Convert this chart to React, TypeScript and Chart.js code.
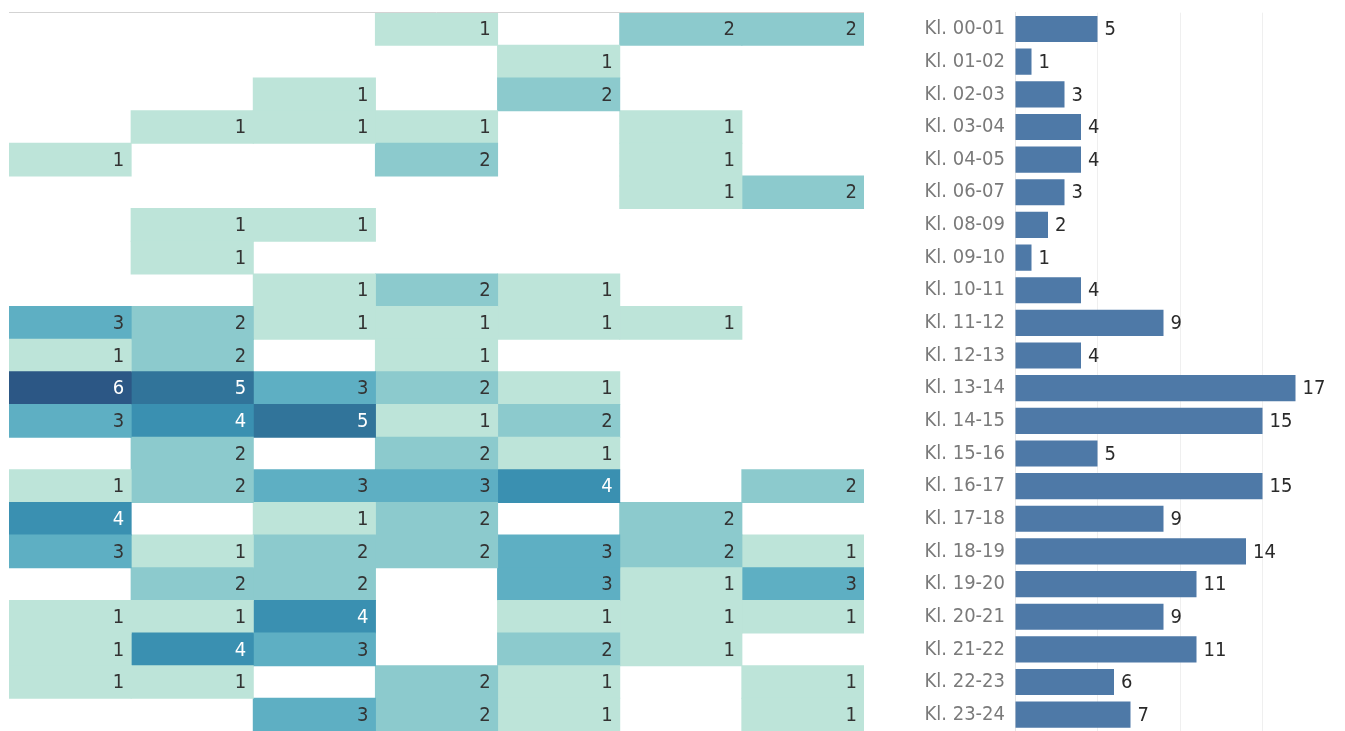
import React, { useEffect, useRef } from "react";
import { Chart, registerables } from "chart.js";

Chart.register(...registerables);

// Row categories (hour intervals)
const hourLabels = [
  "Kl. 00-01", "Kl. 01-02", "Kl. 02-03", "Kl. 03-04", "Kl. 04-05", "Kl. 06-07",
  "Kl. 08-09", "Kl. 09-10", "Kl. 10-11", "Kl. 11-12", "Kl. 12-13", "Kl. 13-14",
  "Kl. 14-15", "Kl. 15-16", "Kl. 16-17", "Kl. 17-18", "Kl. 18-19", "Kl. 19-20",
  "Kl. 20-21", "Kl. 21-22", "Kl. 22-23", "Kl. 23-24",
];

// Heatmap columns (weekdays, header not visible in the picture)
const colNames = ["Man", "Tir", "Ons", "Tor", "Fre", "Lør", "Søn"];

const col0 = [0, 0, 0, 0, 1, 0, 0, 0, 0, 3, 1, 6, 3, 0, 1, 4, 3, 0, 1, 1, 1, 0];
const col1 = [0, 0, 0, 1, 0, 0, 1, 1, 0, 2, 2, 5, 4, 2, 2, 0, 1, 2, 1, 4, 1, 0];
const col2 = [0, 0, 1, 1, 0, 0, 1, 0, 1, 1, 0, 3, 5, 0, 3, 1, 2, 2, 4, 3, 0, 3];
const col3 = [1, 0, 0, 1, 2, 0, 0, 0, 2, 1, 1, 2, 1, 2, 3, 2, 2, 0, 0, 0, 2, 2];
const col4 = [0, 1, 2, 0, 0, 0, 0, 0, 1, 1, 0, 1, 2, 1, 4, 0, 3, 3, 1, 2, 1, 1];
const col5 = [2, 0, 0, 1, 1, 1, 0, 0, 0, 1, 0, 0, 0, 0, 0, 2, 2, 1, 1, 1, 0, 0];
const col6 = [2, 0, 0, 0, 0, 2, 0, 0, 0, 0, 0, 0, 0, 0, 2, 0, 1, 3, 1, 0, 1, 1];

// Row totals (bar chart)
const totals = [5, 1, 3, 4, 4, 3, 2, 1, 4, 9, 4, 17, 15, 5, 15, 9, 14, 11, 9, 11, 6, 7];

const barAxisMax = 20;
const barGridStep = 5;

const columns = [col0, col1, col2, col3, col4, col5, col6];

const heatPalette = ["#bde4d9", "#8ccacd", "#5eafc3", "#3a90b1", "#31749a", "#2c5785"];
const barColor = "#4e79a7";
const FONT_FAMILY = "'DejaVu Sans Condensed', 'DejaVu Sans', sans-serif";
const FONT_SIZE = 20;

export default function App() {
  const heatRef = useRef<HTMLCanvasElement | null>(null);
  const barRef = useRef<HTMLCanvasElement | null>(null);

  useEffect(() => {
    document.body.style.margin = "0";
    const heatCanvas = heatRef.current!;
    const barCanvas = barRef.current!;

    const topLinePlugin = {
      id: "topLine",
      afterDraw(chart: any) {
        const { ctx, chartArea } = chart;
        ctx.save();
        ctx.strokeStyle = "#d3d3d3";
        ctx.lineWidth = 1;
        ctx.beginPath();
        const y = Math.round(chartArea.top) - 0.5;
        ctx.moveTo(chartArea.left, y);
        ctx.lineTo(chartArea.right, y);
        ctx.stroke();
        ctx.restore();
      },
    };

    const heatLabelPlugin = {
      id: "heatLabels",
      afterDatasetsDraw(chart: any) {
        const { ctx } = chart;
        ctx.save();
        ctx.font = `${FONT_SIZE}px ${FONT_FAMILY}`;
        ctx.textAlign = "right";
        ctx.textBaseline = "middle";
        columns.forEach((col, c) => {
          const meta = chart.getDatasetMeta(c);
          col.forEach((v, r) => {
            if (v <= 0) return;
            const el: any = meta.data[r];
            if (!el) return;
            const right = Math.max(el.x, el.base);
            ctx.fillStyle = v >= 4 ? "#ffffff" : "#333333";
            ctx.fillText(String(v), right - 7, el.y + 1);
          });
        });
        ctx.restore();
      },
    };

    const heatChart = new Chart(heatCanvas, {
      type: "bar",
      data: {
        labels: hourLabels,
        datasets: columns.map((col, c) => ({
          label: colNames[c],
          data: col.map((v) => (v > 0 ? [c, c + 1] : null)) as any,
          backgroundColor: col.map((v) => (v > 0 ? heatPalette[Math.min(v, 6) - 1] : "rgba(0,0,0,0)")),
          borderWidth: 0,
          barPercentage: 1,
          categoryPercentage: 1,
          grouped: false,
          inflateAmount: 0.5,
        })),
      },
      options: {
        indexAxis: "y",
        animation: false,
        responsive: false,
        maintainAspectRatio: false,
        events: [],
        layout: { padding: { top: 12.7, left: 9, right: 6, bottom: 0 } },
        plugins: { legend: { display: false }, tooltip: { enabled: false } },
        scales: {
          x: { type: "linear", min: 0, max: columns.length, display: false },
          y: { type: "category", display: false },
        },
      } as any,
      plugins: [topLinePlugin, heatLabelPlugin],
    });

    const barLabelPlugin = {
      id: "barLabels",
      afterDatasetsDraw(chart: any) {
        const { ctx } = chart;
        const meta = chart.getDatasetMeta(0);
        ctx.save();
        ctx.font = `${FONT_SIZE}px ${FONT_FAMILY}`;
        ctx.textAlign = "left";
        ctx.textBaseline = "middle";
        ctx.fillStyle = "#2a2a2a";
        totals.forEach((v, i) => {
          const el: any = meta.data[i];
          if (!el) return;
          ctx.fillText(String(v), el.x + 7, el.y + 1);
        });
        ctx.restore();
      },
    };

    const barChart = new Chart(barCanvas, {
      type: "bar",
      data: {
        labels: hourLabels,
        datasets: [
          {
            label: "Total",
            data: totals,
            backgroundColor: barColor,
            borderWidth: 0,
            barPercentage: 0.8,
            categoryPercentage: 1,
          },
        ],
      },
      options: {
        indexAxis: "y",
        animation: false,
        responsive: false,
        maintainAspectRatio: false,
        events: [],
        layout: { padding: { top: 12.7, left: 0, right: 0, bottom: 0 } },
        plugins: { legend: { display: false }, tooltip: { enabled: false } },
        scales: {
          x: {
            type: "linear",
            min: 0,
            max: barAxisMax,
            ticks: { display: false, stepSize: barGridStep },
            grid: {
              drawTicks: false,
              color: (ctx: any) =>
                ctx.tick && ctx.tick.value > 0 && ctx.tick.value < barAxisMax ? "#efefef" : "rgba(0,0,0,0)",
            },
            border: { display: false },
            afterFit: (s: any) => {
              s.height = 0;
              s.paddingLeft = 0;
              s.paddingRight = 0;
            },
          },
          y: {
            type: "category",
            ticks: {
              color: "#7a7a7a",
              font: { family: FONT_FAMILY, size: FONT_SIZE },
              padding: 10,
              autoSkip: false,
            },
            grid: { display: false, drawTicks: false },
            border: { display: true, color: "#e4e4e4" },
            afterFit: (s: any) => {
              s.width = 135;
              s.paddingTop = 0;
              s.paddingBottom = 0;
            },
          },
        },
      } as any,
      plugins: [barLabelPlugin],
    });

    return () => {
      heatChart.destroy();
      barChart.destroy();
    };
  }, []);

  return (
    <div style={{ position: "relative", width: 1345, height: 731, overflow: "hidden", background: "#fff" }}>
      <canvas
        ref={heatRef}
        width={870}
        height={731}
        style={{ position: "absolute", left: 0, top: 0, width: 870, height: 731 }}
      />
      <canvas
        ref={barRef}
        width={465}
        height={731}
        style={{ position: "absolute", left: 880, top: 0, width: 465, height: 731 }}
      />
    </div>
  );
}
